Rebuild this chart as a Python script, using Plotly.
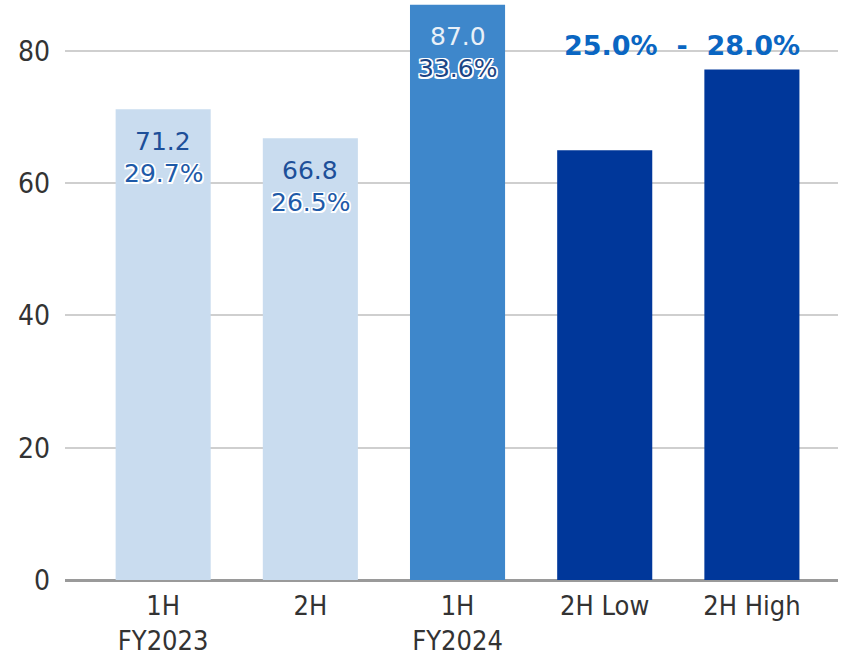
import plotly.graph_objects as go

categories = ["1H<br>FY2023", "2H", "1H<br>FY2024", "2H Low", "2H High"]
values = [71.2, 66.8, 87.0, 65.0, 77.2]
value_labels = ["71.2", "66.8", "87.0", "", ""]
pct_labels = ["29.7%", "26.5%", "33.6%", "", ""]
bar_colors = ["#c9dcef", "#c9dcef", "#3e87cb", "#00379a", "#00379a"]
value_text_colors = ["#1d4f99", "#1d4f99", "#e8f0f8", "#ffffff", "#ffffff"]
pct_text_colors = ["#1e5aa8", "#1e5aa8", "#1c4585", "#ffffff", "#ffffff"]
range_label = "25.0%  -  28.0%"
y_ticks = [0, 20, 40, 60, 80]

x_idx = list(range(len(categories)))

fig = go.Figure()
fig.add_trace(go.Bar(
    x=x_idx, y=values, marker=dict(color=bar_colors, line=dict(width=0)),
    hoverinfo="skip", showlegend=False,
))

outline = ("-1.5px -1.5px 0 #fff, 1.5px -1.5px 0 #fff, -1.5px 1.5px 0 #fff, "
           "1.5px 1.5px 0 #fff, 0 1.5px 0 #fff, 0 -1.5px 0 #fff, 1.5px 0 0 #fff, -1.5px 0 0 #fff")

annotations = []
for i, v in enumerate(values):
    if value_labels[i]:
        annotations.append(dict(
            x=i, y=v, xref="x", yref="y", text=value_labels[i], showarrow=False,
            yanchor="middle", yshift=-32,
            font=dict(family="DejaVu Sans", size=25, color=value_text_colors[i]),
        ))
    if pct_labels[i]:
        annotations.append(dict(
            x=i, y=v, xref="x", yref="y", text=pct_labels[i], showarrow=False,
            yanchor="middle", yshift=-64,
            font=dict(family="DejaVu Sans", size=25, color=pct_text_colors[i], shadow=outline),
        ))

annotations.append(dict(
    x=3.5, y=80.9, xref="x", yref="y", text="<b>" + range_label + "</b>", showarrow=False,
    yanchor="middle", xanchor="center", xshift=4,
    font=dict(family="DejaVu Sans", size=27, color="#0a66c2"),
))

fig.update_layout(
    width=855, height=660,
    margin=dict(l=65, r=17, t=0, b=80),
    paper_bgcolor="white", plot_bgcolor="white",
    bargap=0.354,
    annotations=annotations,
    xaxis=dict(
        tickmode="array", tickvals=x_idx, ticktext=categories,
        range=[-0.667, 4.585], showgrid=False, zeroline=False, showline=False,
        tickfont=dict(family="DejaVu Sans Condensed", size=27, color="#333333"),
        ticks="", ticklabelstandoff=7, automargin=False,
    ),
    yaxis=dict(
        range=[0, 87.71], tickmode="array", tickvals=y_ticks,
        showgrid=True, gridcolor="#cfcfcf", gridwidth=2,
        zeroline=True, zerolinecolor="#9a9a9a", zerolinewidth=3,
        tickfont=dict(family="DejaVu Sans Condensed", size=28, color="#333333"),
        ticks="", ticklabelstandoff=14, automargin=False, showline=False,
    ),
)

fig.write_html("out.html", config={"displayModeBar": False},
               post_script="document.body.style.margin='0';")
